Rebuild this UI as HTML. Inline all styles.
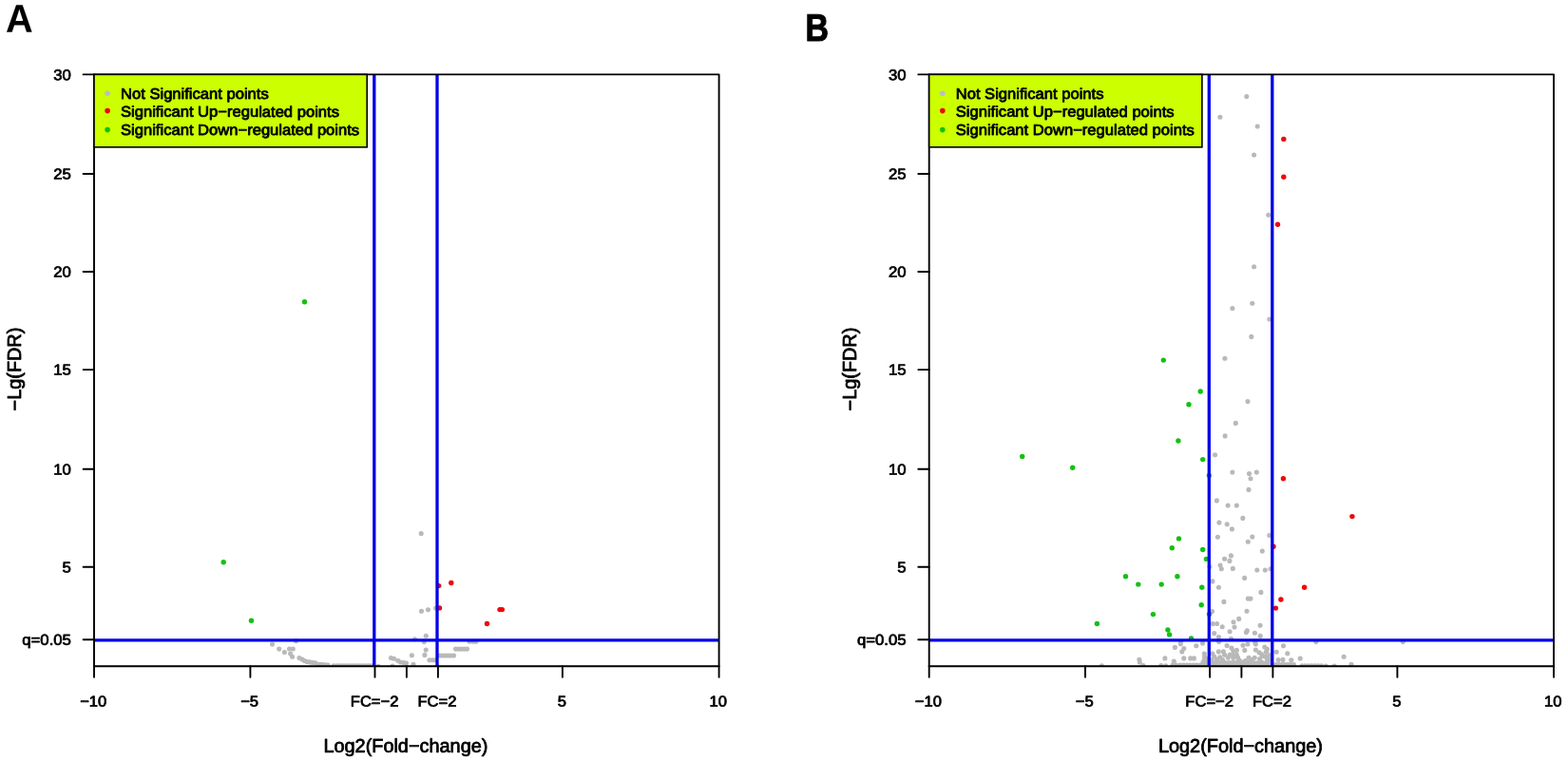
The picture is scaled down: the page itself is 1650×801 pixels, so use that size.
<!DOCTYPE html>
<html lang="en">
<head>
<meta charset="utf-8">
<title>Volcano plots</title>
<style>
html,body{margin:0;padding:0;background:#fff;}
body{width:1650px;height:801px;overflow:hidden;font-family:"Liberation Sans",sans-serif;}
svg{display:block;position:absolute;left:0;top:0;}
text{font-family:"Liberation Sans",sans-serif;fill:#000;}
.lbl{font-weight:bold;font-size:41.6px;}
.lblb{font-weight:bold;font-size:40.4px;stroke:#000;stroke-width:1.1px;stroke-linejoin:miter;}
.tk{font-size:15.8px;stroke:#000;stroke-width:0.75px;stroke-linejoin:round;}
.lg{font-size:15.8px;stroke:#000;stroke-width:0.8px;stroke-linejoin:round;}
.ax{font-size:20px;stroke:#000;stroke-width:0.8px;stroke-linejoin:round;}
.ay{font-size:19.3px;stroke:#000;stroke-width:0.8px;stroke-linejoin:round;}
</style>
</head>
<body>
<svg width="1650" height="801" viewBox="0 0 1650 801">
<rect x="0" y="0" width="1650" height="801" fill="#fff"/>
<text class="lbl" transform="translate(5.90,33.80) rotate(0.03) scale(0.955,1)">A</text>
<text class="lblb" transform="translate(847.40,42.75) rotate(0.03) scale(0.84,1)">B</text>
<g class="panel">
<clipPath id="clipA"><rect x="99.0" y="78.4" width="657.6" height="622.9"/></clipPath>
<g clip-path="url(#clipA)">
<g fill="#b9b9b9">
<circle cx="443.2" cy="561.6" r="2.55"/>
<circle cx="443.5" cy="643.2" r="2.55"/>
<circle cx="450.5" cy="641.7" r="2.55"/>
<circle cx="458.6" cy="640.1" r="2.55"/>
<circle cx="448.3" cy="669.3" r="2.55"/>
<circle cx="436.5" cy="672.8" r="2.55"/>
<circle cx="446.2" cy="675.6" r="2.55"/>
<circle cx="286.5" cy="678.1" r="2.55"/>
<circle cx="311.5" cy="674.8" r="2.55"/>
<circle cx="293.7" cy="683.1" r="2.55"/>
<circle cx="299.4" cy="686.5" r="2.55"/>
<circle cx="304.5" cy="683.0" r="2.55"/>
<circle cx="308.3" cy="683.0" r="2.55"/>
<circle cx="305.6" cy="688.1" r="2.55"/>
<circle cx="307.6" cy="691.2" r="2.55"/>
<circle cx="315.0" cy="692.6" r="2.55"/>
<circle cx="318.0" cy="694.0" r="2.55"/>
<circle cx="320.5" cy="695.5" r="2.55"/>
<circle cx="323.0" cy="696.5" r="2.55"/>
<circle cx="326.0" cy="696.9" r="2.55"/>
<circle cx="329.0" cy="697.4" r="2.55"/>
<circle cx="332.0" cy="697.8" r="2.55"/>
<circle cx="334.0" cy="699.2" r="2.55"/>
<circle cx="336.8" cy="699.4" r="2.55"/>
<circle cx="339.5" cy="699.6" r="2.55"/>
<circle cx="342.2" cy="699.8" r="2.55"/>
<circle cx="345.0" cy="700.0" r="2.55"/>
<circle cx="351.0" cy="700.8" r="2.55"/>
<circle cx="354.2" cy="700.8" r="2.55"/>
<circle cx="357.3" cy="700.8" r="2.55"/>
<circle cx="360.5" cy="700.8" r="2.55"/>
<circle cx="363.7" cy="700.8" r="2.55"/>
<circle cx="366.8" cy="700.8" r="2.55"/>
<circle cx="370.0" cy="700.8" r="2.55"/>
<circle cx="373.0" cy="700.8" r="2.55"/>
<circle cx="376.0" cy="700.8" r="2.55"/>
<circle cx="379.0" cy="700.8" r="2.55"/>
<circle cx="382.0" cy="700.8" r="2.55"/>
<circle cx="385.0" cy="700.8" r="2.55"/>
<circle cx="388.0" cy="700.8" r="2.55"/>
<circle cx="391.0" cy="700.8" r="2.55"/>
<circle cx="398.0" cy="701.2" r="2.55"/>
<circle cx="411.5" cy="692.5" r="2.55"/>
<circle cx="414.5" cy="693.3" r="2.55"/>
<circle cx="418.7" cy="695.3" r="2.55"/>
<circle cx="421.5" cy="697.0" r="2.55"/>
<circle cx="425.0" cy="697.6" r="2.55"/>
<circle cx="427.5" cy="698.0" r="2.55"/>
<circle cx="413.0" cy="701.0" r="2.55"/>
<circle cx="433.4" cy="689.7" r="2.55"/>
<circle cx="435.0" cy="699.3" r="2.55"/>
<circle cx="448.2" cy="684.0" r="2.55"/>
<circle cx="446.9" cy="689.4" r="2.55"/>
<circle cx="451.9" cy="694.7" r="2.55"/>
<circle cx="455.0" cy="694.7" r="2.55"/>
<circle cx="458.0" cy="694.7" r="2.55"/>
<circle cx="463.0" cy="690.0" r="2.55"/>
<circle cx="465.9" cy="690.0" r="2.55"/>
<circle cx="468.8" cy="690.0" r="2.55"/>
<circle cx="471.7" cy="690.0" r="2.55"/>
<circle cx="474.6" cy="690.0" r="2.55"/>
<circle cx="477.5" cy="690.0" r="2.55"/>
<circle cx="479.5" cy="683.1" r="2.55"/>
<circle cx="482.5" cy="683.1" r="2.55"/>
<circle cx="485.5" cy="683.1" r="2.55"/>
<circle cx="488.5" cy="683.1" r="2.55"/>
<circle cx="491.5" cy="683.1" r="2.55"/>
<circle cx="494.0" cy="675.2" r="2.55"/>
<circle cx="498.0" cy="675.2" r="2.55"/>
<circle cx="501.0" cy="675.2" r="2.55"/>
</g>
<g fill="#12c212">
<circle cx="320.5" cy="317.7" r="2.7"/>
<circle cx="235.2" cy="591.8" r="2.7"/>
<circle cx="264.5" cy="653.3" r="2.7"/>
</g>
<g fill="#ee0808">
<circle cx="461.7" cy="616.6" r="2.7"/>
<circle cx="474.8" cy="613.5" r="2.7"/>
<circle cx="462.5" cy="639.9" r="2.7"/>
<circle cx="526.0" cy="641.6" r="2.7"/>
<circle cx="528.3" cy="641.6" r="2.7"/>
<circle cx="512.5" cy="656.5" r="2.7"/>
</g>
</g>
<g stroke="#0300e6" stroke-width="3.3" fill="none">
<line x1="99.0" y1="673.8" x2="756.6" y2="673.8"/>
<line x1="393.8" y1="78.4" x2="393.8" y2="701.3"/>
<line x1="460.0" y1="78.4" x2="460.0" y2="701.3"/>
</g>
<g stroke="#000" stroke-width="1.9" fill="none" stroke-linecap="round" stroke-linejoin="round">
<rect x="99.0" y="78.4" width="657.6" height="622.9"/>
<line x1="87.6" y1="596.8" x2="99.0" y2="596.8"/>
<line x1="87.6" y1="493.8" x2="99.0" y2="493.8"/>
<line x1="87.6" y1="389.1" x2="99.0" y2="389.1"/>
<line x1="87.6" y1="286.0" x2="99.0" y2="286.0"/>
<line x1="87.6" y1="183.0" x2="99.0" y2="183.0"/>
<line x1="87.6" y1="78.4" x2="99.0" y2="78.4"/>
<line x1="87.6" y1="673.2" x2="99.0" y2="673.2"/>
<line x1="99.0" y1="701.3" x2="99.0" y2="712.8"/>
<line x1="263.4" y1="701.3" x2="263.4" y2="712.8"/>
<line x1="394.5" y1="701.3" x2="394.5" y2="712.8"/>
<line x1="427.9" y1="701.3" x2="427.9" y2="712.8"/>
<line x1="460.9" y1="701.3" x2="460.9" y2="712.8"/>
<line x1="591.9" y1="701.3" x2="591.9" y2="712.8"/>
<line x1="756.6" y1="701.3" x2="756.6" y2="712.8"/>
</g>
<rect x="99.0" y="78.4" width="287.2" height="76.5" fill="#ccff00" stroke="#000" stroke-width="1.6"/>
<circle cx="113.1" cy="98.3" r="2.8" fill="#bcbcc8"/>
<text class="lg" transform="translate(127.00,104.00) rotate(0.03) scale(1.05,1)">Not Significant points</text>
<circle cx="113.1" cy="116.6" r="2.8" fill="#ee0808"/>
<text class="lg" transform="translate(127.00,122.80) rotate(0.03) scale(1.05,1)">Significant Up−regulated points</text>
<circle cx="113.1" cy="136.6" r="2.8" fill="#10c410"/>
<text class="lg" transform="translate(127.00,142.00) rotate(0.03) scale(1.05,1)">Significant Down−regulated points</text>
<text class="tk" text-anchor="end" transform="translate(74.90,602.40) rotate(0.03) scale(1.06,1)">5</text>
<text class="tk" text-anchor="end" transform="translate(74.90,499.45) rotate(0.03) scale(1.06,1)">10</text>
<text class="tk" text-anchor="end" transform="translate(74.90,394.40) rotate(0.03) scale(1.06,1)">15</text>
<text class="tk" text-anchor="end" transform="translate(74.90,291.60) rotate(0.03) scale(1.06,1)">20</text>
<text class="tk" text-anchor="end" transform="translate(74.90,188.45) rotate(0.03) scale(1.06,1)">25</text>
<text class="tk" text-anchor="end" transform="translate(74.90,84.20) rotate(0.03) scale(1.06,1)">30</text>
<text class="tk" text-anchor="end" transform="translate(74.90,678.75) rotate(0.03) scale(1.06,1)">q=0.05</text>
<text class="tk" text-anchor="middle" transform="translate(98.20,743.60) rotate(0.03) scale(1.05,1)">−10</text>
<text class="tk" text-anchor="middle" transform="translate(262.60,743.60) rotate(0.03) scale(1.05,1)">−5</text>
<text class="tk" text-anchor="middle" transform="translate(394.12,743.60) rotate(0.03) scale(1.05,1)">FC=−2</text>
<text class="tk" text-anchor="middle" transform="translate(459.88,743.60) rotate(0.03) scale(1.05,1)">FC=2</text>
<text class="tk" text-anchor="middle" transform="translate(591.40,743.60) rotate(0.03) scale(1.05,1)">5</text>
<text class="tk" text-anchor="middle" transform="translate(755.80,743.60) rotate(0.03) scale(1.05,1)">10</text>
<text class="ax" text-anchor="middle" transform="translate(426.90,791.80) rotate(0.03) scale(0.995,1)">Log2(Fold−change)</text>
<text class="ay" text-anchor="middle" transform="translate(21.50,388.55) rotate(-90) scale(1.03,1)">−Lg(FDR)</text>
</g>
<g class="panel">
<clipPath id="clipB"><rect x="977.7" y="78.4" width="657.3" height="622.9"/></clipPath>
<g clip-path="url(#clipB)">
<g fill="#b9b9b9">
<circle cx="1311.8" cy="101.5" r="2.55"/>
<circle cx="1283.9" cy="123.2" r="2.55"/>
<circle cx="1323.2" cy="133.0" r="2.55"/>
<circle cx="1319.6" cy="163.1" r="2.55"/>
<circle cx="1334.8" cy="226.3" r="2.55"/>
<circle cx="1319.6" cy="280.7" r="2.55"/>
<circle cx="1296.9" cy="324.5" r="2.55"/>
<circle cx="1317.8" cy="319.2" r="2.55"/>
<circle cx="1335.8" cy="336.0" r="2.55"/>
<circle cx="1316.8" cy="354.4" r="2.55"/>
<circle cx="1288.9" cy="377.3" r="2.55"/>
<circle cx="1313.0" cy="422.5" r="2.55"/>
<circle cx="1300.3" cy="445.4" r="2.55"/>
<circle cx="1289.1" cy="458.9" r="2.55"/>
<circle cx="1278.6" cy="478.7" r="2.55"/>
<circle cx="1296.9" cy="497.1" r="2.55"/>
<circle cx="1314.5" cy="498.6" r="2.55"/>
<circle cx="1322.3" cy="497.1" r="2.55"/>
<circle cx="1316.0" cy="503.7" r="2.55"/>
<circle cx="1314.0" cy="515.4" r="2.55"/>
<circle cx="1280.4" cy="526.9" r="2.55"/>
<circle cx="1292.1" cy="532.0" r="2.55"/>
<circle cx="1301.3" cy="532.0" r="2.55"/>
<circle cx="1307.8" cy="545.4" r="2.55"/>
<circle cx="1282.9" cy="550.1" r="2.55"/>
<circle cx="1291.2" cy="551.8" r="2.55"/>
<circle cx="1296.4" cy="556.9" r="2.55"/>
<circle cx="1281.4" cy="565.3" r="2.55"/>
<circle cx="1317.8" cy="565.1" r="2.55"/>
<circle cx="1313.3" cy="570.2" r="2.55"/>
<circle cx="1335.8" cy="563.5" r="2.55"/>
<circle cx="1328.3" cy="580.1" r="2.55"/>
<circle cx="1295.4" cy="584.9" r="2.55"/>
<circle cx="1288.6" cy="588.2" r="2.55"/>
<circle cx="1293.9" cy="590.4" r="2.55"/>
<circle cx="1284.1" cy="595.1" r="2.55"/>
<circle cx="1285.3" cy="598.7" r="2.55"/>
<circle cx="1297.3" cy="598.4" r="2.55"/>
<circle cx="1272.9" cy="596.6" r="2.55"/>
<circle cx="1322.8" cy="600.0" r="2.55"/>
<circle cx="1331.3" cy="600.0" r="2.55"/>
<circle cx="1337.0" cy="598.7" r="2.55"/>
<circle cx="1309.6" cy="608.4" r="2.55"/>
<circle cx="1275.9" cy="611.9" r="2.55"/>
<circle cx="1282.4" cy="618.2" r="2.55"/>
<circle cx="1326.9" cy="623.4" r="2.55"/>
<circle cx="1313.3" cy="630.1" r="2.55"/>
<circle cx="1316.0" cy="630.1" r="2.55"/>
<circle cx="1287.9" cy="633.4" r="2.55"/>
<circle cx="1312.0" cy="643.2" r="2.55"/>
<circle cx="1275.5" cy="643.5" r="2.55"/>
<circle cx="1303.7" cy="651.4" r="2.55"/>
<circle cx="1298.0" cy="654.7" r="2.55"/>
<circle cx="1299.0" cy="660.1" r="2.55"/>
<circle cx="1280.6" cy="656.5" r="2.55"/>
<circle cx="1276.1" cy="656.5" r="2.55"/>
<circle cx="1286.2" cy="659.8" r="2.55"/>
<circle cx="1326.1" cy="658.3" r="2.55"/>
<circle cx="1294.1" cy="664.8" r="2.55"/>
<circle cx="1312.3" cy="663.9" r="2.55"/>
<circle cx="1320.4" cy="666.3" r="2.55"/>
<circle cx="1277.7" cy="666.6" r="2.55"/>
<circle cx="1326.2" cy="669.4" r="2.55"/>
<circle cx="1282.4" cy="670.5" r="2.55"/>
<circle cx="1295.5" cy="672.4" r="2.55"/>
<circle cx="1282.6" cy="675.4" r="2.55"/>
<circle cx="1311.4" cy="665.6" r="2.55"/>
<circle cx="1320.8" cy="676.5" r="2.55"/>
<circle cx="1159.4" cy="700.7" r="2.55"/>
<circle cx="1198.9" cy="694.3" r="2.55"/>
<circle cx="1199.3" cy="697.0" r="2.55"/>
<circle cx="1203.0" cy="700.5" r="2.55"/>
<circle cx="1225.9" cy="692.9" r="2.55"/>
<circle cx="1221.8" cy="700.5" r="2.55"/>
<circle cx="1226.7" cy="700.7" r="2.55"/>
<circle cx="1235.3" cy="696.0" r="2.55"/>
<circle cx="1234.0" cy="700.0" r="2.55"/>
<circle cx="1237.6" cy="700.0" r="2.55"/>
<circle cx="1236.4" cy="681.4" r="2.55"/>
<circle cx="1242.4" cy="677.7" r="2.55"/>
<circle cx="1242.6" cy="675.6" r="2.55"/>
<circle cx="1245.8" cy="682.6" r="2.55"/>
<circle cx="1243.8" cy="685.9" r="2.55"/>
<circle cx="1258.8" cy="679.8" r="2.55"/>
<circle cx="1265.5" cy="677.1" r="2.55"/>
<circle cx="1245.8" cy="692.9" r="2.55"/>
<circle cx="1252.7" cy="692.9" r="2.55"/>
<circle cx="1256.4" cy="692.9" r="2.55"/>
<circle cx="1267.3" cy="688.0" r="2.55"/>
<circle cx="1267.6" cy="691.5" r="2.55"/>
<circle cx="1267.3" cy="694.5" r="2.55"/>
<circle cx="1266.0" cy="697.0" r="2.55"/>
<circle cx="1269.5" cy="693.5" r="2.55"/>
<circle cx="1270.0" cy="697.5" r="2.55"/>
<circle cx="1242.0" cy="700.1" r="2.55"/>
<circle cx="1245.5" cy="700.1" r="2.55"/>
<circle cx="1249.0" cy="700.1" r="2.55"/>
<circle cx="1252.5" cy="700.1" r="2.55"/>
<circle cx="1256.0" cy="700.1" r="2.55"/>
<circle cx="1259.5" cy="700.1" r="2.55"/>
<circle cx="1263.0" cy="700.1" r="2.55"/>
<circle cx="1266.5" cy="700.1" r="2.55"/>
<circle cx="1270.0" cy="700.1" r="2.55"/>
<circle cx="1291.1" cy="679.5" r="2.55"/>
<circle cx="1295.9" cy="682.0" r="2.55"/>
<circle cx="1308.0" cy="679.2" r="2.55"/>
<circle cx="1312.9" cy="678.0" r="2.55"/>
<circle cx="1321.4" cy="678.0" r="2.55"/>
<circle cx="1330.8" cy="681.1" r="2.55"/>
<circle cx="1309.8" cy="684.4" r="2.55"/>
<circle cx="1282.3" cy="685.9" r="2.55"/>
<circle cx="1287.4" cy="685.9" r="2.55"/>
<circle cx="1297.7" cy="685.0" r="2.55"/>
<circle cx="1301.4" cy="684.4" r="2.55"/>
<circle cx="1321.4" cy="684.1" r="2.55"/>
<circle cx="1325.0" cy="686.8" r="2.55"/>
<circle cx="1327.4" cy="688.6" r="2.55"/>
<circle cx="1332.3" cy="686.2" r="2.55"/>
<circle cx="1333.5" cy="683.2" r="2.55"/>
<circle cx="1275.9" cy="688.0" r="2.55"/>
<circle cx="1277.7" cy="691.1" r="2.55"/>
<circle cx="1283.8" cy="691.7" r="2.55"/>
<circle cx="1288.6" cy="689.2" r="2.55"/>
<circle cx="1294.1" cy="689.2" r="2.55"/>
<circle cx="1297.7" cy="689.2" r="2.55"/>
<circle cx="1301.4" cy="689.2" r="2.55"/>
<circle cx="1292.3" cy="692.3" r="2.55"/>
<circle cx="1297.7" cy="692.3" r="2.55"/>
<circle cx="1302.6" cy="692.3" r="2.55"/>
<circle cx="1314.1" cy="692.3" r="2.55"/>
<circle cx="1320.2" cy="692.3" r="2.55"/>
<circle cx="1325.6" cy="693.5" r="2.55"/>
<circle cx="1331.7" cy="691.1" r="2.55"/>
<circle cx="1333.5" cy="693.5" r="2.55"/>
<circle cx="1304.4" cy="695.3" r="2.55"/>
<circle cx="1307.4" cy="697.4" r="2.55"/>
<circle cx="1310.5" cy="695.6" r="2.55"/>
<circle cx="1317.0" cy="694.6" r="2.55"/>
<circle cx="1329.0" cy="690.5" r="2.55"/>
<circle cx="1336.0" cy="689.5" r="2.55"/>
<circle cx="1335.5" cy="694.0" r="2.55"/>
<circle cx="1280.5" cy="694.0" r="2.55"/>
<circle cx="1286.5" cy="694.5" r="2.55"/>
<circle cx="1275.0" cy="694.5" r="2.55"/>
<circle cx="1276.0" cy="697.2" r="2.55"/>
<circle cx="1280.3" cy="696.9" r="2.55"/>
<circle cx="1284.6" cy="696.9" r="2.55"/>
<circle cx="1288.9" cy="697.2" r="2.55"/>
<circle cx="1293.1" cy="697.6" r="2.55"/>
<circle cx="1297.4" cy="696.9" r="2.55"/>
<circle cx="1301.7" cy="697.0" r="2.55"/>
<circle cx="1306.0" cy="697.4" r="2.55"/>
<circle cx="1310.3" cy="697.7" r="2.55"/>
<circle cx="1314.6" cy="697.4" r="2.55"/>
<circle cx="1318.9" cy="697.2" r="2.55"/>
<circle cx="1323.1" cy="697.8" r="2.55"/>
<circle cx="1327.4" cy="696.8" r="2.55"/>
<circle cx="1331.7" cy="697.7" r="2.55"/>
<circle cx="1336.0" cy="697.1" r="2.55"/>
<circle cx="1274.0" cy="700.7" r="2.55"/>
<circle cx="1277.0" cy="700.7" r="2.55"/>
<circle cx="1280.0" cy="700.7" r="2.55"/>
<circle cx="1283.0" cy="700.7" r="2.55"/>
<circle cx="1286.0" cy="700.7" r="2.55"/>
<circle cx="1289.0" cy="700.7" r="2.55"/>
<circle cx="1292.0" cy="700.7" r="2.55"/>
<circle cx="1295.0" cy="700.7" r="2.55"/>
<circle cx="1298.0" cy="700.7" r="2.55"/>
<circle cx="1301.0" cy="700.7" r="2.55"/>
<circle cx="1304.0" cy="700.7" r="2.55"/>
<circle cx="1307.0" cy="700.7" r="2.55"/>
<circle cx="1310.0" cy="700.7" r="2.55"/>
<circle cx="1313.0" cy="700.7" r="2.55"/>
<circle cx="1316.0" cy="700.7" r="2.55"/>
<circle cx="1319.0" cy="700.7" r="2.55"/>
<circle cx="1322.0" cy="700.7" r="2.55"/>
<circle cx="1325.0" cy="700.7" r="2.55"/>
<circle cx="1328.0" cy="700.7" r="2.55"/>
<circle cx="1331.0" cy="700.7" r="2.55"/>
<circle cx="1334.0" cy="700.7" r="2.55"/>
<circle cx="1337.0" cy="700.7" r="2.55"/>
<circle cx="1350.5" cy="679.8" r="2.55"/>
<circle cx="1384.9" cy="675.6" r="2.55"/>
<circle cx="1476.3" cy="675.6" r="2.55"/>
<circle cx="1343.2" cy="686.3" r="2.55"/>
<circle cx="1354.8" cy="687.8" r="2.55"/>
<circle cx="1368.2" cy="693.1" r="2.55"/>
<circle cx="1414.1" cy="691.3" r="2.55"/>
<circle cx="1422.0" cy="699.2" r="2.55"/>
<circle cx="1345.1" cy="694.6" r="2.55"/>
<circle cx="1349.9" cy="694.4" r="2.55"/>
<circle cx="1358.8" cy="694.8" r="2.55"/>
<circle cx="1395.2" cy="701.0" r="2.55"/>
<circle cx="1404.2" cy="701.0" r="2.55"/>
<circle cx="1342.6" cy="699.6" r="2.55"/>
<circle cx="1345.8" cy="699.6" r="2.55"/>
<circle cx="1348.9" cy="699.6" r="2.55"/>
<circle cx="1352.0" cy="699.6" r="2.55"/>
<circle cx="1355.2" cy="699.6" r="2.55"/>
<circle cx="1358.3" cy="699.6" r="2.55"/>
<circle cx="1361.5" cy="699.6" r="2.55"/>
<circle cx="1370.0" cy="700.7" r="2.55"/>
<circle cx="1373.4" cy="700.7" r="2.55"/>
<circle cx="1376.8" cy="700.7" r="2.55"/>
<circle cx="1380.2" cy="700.7" r="2.55"/>
<circle cx="1383.7" cy="700.7" r="2.55"/>
<circle cx="1387.1" cy="700.7" r="2.55"/>
<circle cx="1390.5" cy="700.7" r="2.55"/>
</g>
<g fill="#12c212">
<circle cx="1224.3" cy="379.1" r="2.7"/>
<circle cx="1263.2" cy="412.0" r="2.7"/>
<circle cx="1251.0" cy="425.8" r="2.7"/>
<circle cx="1239.9" cy="464.0" r="2.7"/>
<circle cx="1265.7" cy="483.6" r="2.7"/>
<circle cx="1272.3" cy="500.4" r="2.7"/>
<circle cx="1075.7" cy="480.5" r="2.7"/>
<circle cx="1128.7" cy="492.2" r="2.7"/>
<circle cx="1240.5" cy="566.9" r="2.7"/>
<circle cx="1233.3" cy="576.8" r="2.7"/>
<circle cx="1265.7" cy="578.5" r="2.7"/>
<circle cx="1269.4" cy="588.4" r="2.7"/>
<circle cx="1184.5" cy="606.8" r="2.7"/>
<circle cx="1238.9" cy="606.8" r="2.7"/>
<circle cx="1197.8" cy="615.1" r="2.7"/>
<circle cx="1222.2" cy="615.1" r="2.7"/>
<circle cx="1264.8" cy="618.2" r="2.7"/>
<circle cx="1264.2" cy="636.7" r="2.7"/>
<circle cx="1213.4" cy="646.6" r="2.7"/>
<circle cx="1272.5" cy="646.4" r="2.7"/>
<circle cx="1154.4" cy="656.5" r="2.7"/>
<circle cx="1228.9" cy="663.0" r="2.7"/>
<circle cx="1230.6" cy="667.9" r="2.7"/>
<circle cx="1253.5" cy="672.0" r="2.7"/>
</g>
<g fill="#ee0808">
<circle cx="1350.8" cy="146.4" r="2.7"/>
<circle cx="1350.8" cy="186.2" r="2.7"/>
<circle cx="1344.5" cy="236.2" r="2.7"/>
<circle cx="1350.4" cy="503.7" r="2.7"/>
<circle cx="1422.9" cy="543.6" r="2.7"/>
<circle cx="1340.0" cy="575.2" r="2.7"/>
<circle cx="1372.6" cy="618.3" r="2.7"/>
<circle cx="1347.9" cy="631.0" r="2.7"/>
<circle cx="1342.4" cy="640.1" r="2.7"/>
</g>
</g>
<g stroke="#0300e6" stroke-width="3.3" fill="none">
<line x1="977.7" y1="673.8" x2="1635.0" y2="673.8"/>
<line x1="1272.3" y1="78.4" x2="1272.3" y2="701.3"/>
<line x1="1338.8" y1="78.4" x2="1338.8" y2="701.3"/>
</g>
<g stroke="#000" stroke-width="1.9" fill="none" stroke-linecap="round" stroke-linejoin="round">
<rect x="977.7" y="78.4" width="657.3" height="622.9"/>
<line x1="966.3" y1="596.8" x2="977.7" y2="596.8"/>
<line x1="966.3" y1="493.8" x2="977.7" y2="493.8"/>
<line x1="966.3" y1="389.1" x2="977.7" y2="389.1"/>
<line x1="966.3" y1="286.0" x2="977.7" y2="286.0"/>
<line x1="966.3" y1="183.0" x2="977.7" y2="183.0"/>
<line x1="966.3" y1="78.4" x2="977.7" y2="78.4"/>
<line x1="966.3" y1="673.2" x2="977.7" y2="673.2"/>
<line x1="977.7" y1="701.3" x2="977.7" y2="712.8"/>
<line x1="1142.0" y1="701.3" x2="1142.0" y2="712.8"/>
<line x1="1273.1" y1="701.3" x2="1273.1" y2="712.8"/>
<line x1="1306.4" y1="701.3" x2="1306.4" y2="712.8"/>
<line x1="1339.4" y1="701.3" x2="1339.4" y2="712.8"/>
<line x1="1470.4" y1="701.3" x2="1470.4" y2="712.8"/>
<line x1="1635.0" y1="701.3" x2="1635.0" y2="712.8"/>
</g>
<rect x="977.7" y="78.4" width="287.2" height="76.5" fill="#ccff00" stroke="#000" stroke-width="1.6"/>
<circle cx="991.8" cy="98.3" r="2.8" fill="#bcbcc8"/>
<text class="lg" transform="translate(1005.70,104.00) rotate(0.03) scale(1.05,1)">Not Significant points</text>
<circle cx="991.8" cy="116.6" r="2.8" fill="#ee0808"/>
<text class="lg" transform="translate(1005.70,122.80) rotate(0.03) scale(1.05,1)">Significant Up−regulated points</text>
<circle cx="991.8" cy="136.6" r="2.8" fill="#10c410"/>
<text class="lg" transform="translate(1005.70,142.00) rotate(0.03) scale(1.05,1)">Significant Down−regulated points</text>
<text class="tk" text-anchor="end" transform="translate(953.60,602.40) rotate(0.03) scale(1.06,1)">5</text>
<text class="tk" text-anchor="end" transform="translate(953.60,499.45) rotate(0.03) scale(1.06,1)">10</text>
<text class="tk" text-anchor="end" transform="translate(953.60,394.40) rotate(0.03) scale(1.06,1)">15</text>
<text class="tk" text-anchor="end" transform="translate(953.60,291.60) rotate(0.03) scale(1.06,1)">20</text>
<text class="tk" text-anchor="end" transform="translate(953.60,188.45) rotate(0.03) scale(1.06,1)">25</text>
<text class="tk" text-anchor="end" transform="translate(953.60,84.20) rotate(0.03) scale(1.06,1)">30</text>
<text class="tk" text-anchor="end" transform="translate(953.60,678.75) rotate(0.03) scale(1.06,1)">q=0.05</text>
<text class="tk" text-anchor="middle" transform="translate(976.90,743.60) rotate(0.03) scale(1.05,1)">−10</text>
<text class="tk" text-anchor="middle" transform="translate(1141.23,743.60) rotate(0.03) scale(1.05,1)">−5</text>
<text class="tk" text-anchor="middle" transform="translate(1272.69,743.60) rotate(0.03) scale(1.05,1)">FC=−2</text>
<text class="tk" text-anchor="middle" transform="translate(1338.41,743.60) rotate(0.03) scale(1.05,1)">FC=2</text>
<text class="tk" text-anchor="middle" transform="translate(1469.88,743.60) rotate(0.03) scale(1.05,1)">5</text>
<text class="tk" text-anchor="middle" transform="translate(1634.20,743.60) rotate(0.03) scale(1.05,1)">10</text>
<text class="ax" text-anchor="middle" transform="translate(1305.45,791.80) rotate(0.03) scale(0.995,1)">Log2(Fold−change)</text>
<text class="ay" text-anchor="middle" transform="translate(901.00,388.55) rotate(-90) scale(1.03,1)">−Lg(FDR)</text>
</g>
</svg>
</body>
</html>
